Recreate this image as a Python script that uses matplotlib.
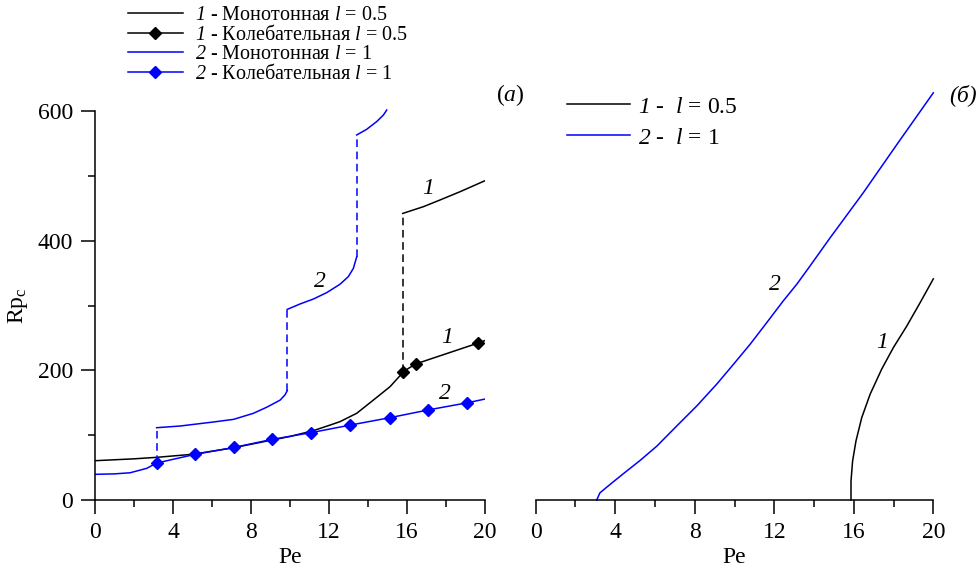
import matplotlib
matplotlib.use('Agg')
import matplotlib.pyplot as plt
from matplotlib.ticker import MultipleLocator
from matplotlib.lines import Line2D

plt.rcParams['font.family'] = ['Liberation Serif', 'DejaVu Serif']
plt.rcParams['mathtext.fontset'] = 'custom'
plt.rcParams['mathtext.rm'] = 'Liberation Serif'
plt.rcParams['mathtext.it'] = 'Liberation Serif:italic'
plt.rcParams['mathtext.cal'] = 'Liberation Serif:italic'

# ---------------- data (panel a) ----------------
# curve 1 (l = 0.5), monotonic, lower branch
mono1_low_pe = [0, 2, 3.16, 5, 7, 9, 10, 11.2, 12, 12.56, 13.42, 14.27, 15.13, 15.8]
mono1_low_rp = [60.6, 63.5, 65.8, 70.5, 80, 92, 98, 107, 115, 120.8, 133.7, 154, 174.8, 197]
# curve 1, monotonic, upper branch
mono1_up_pe = [15.78, 16.84, 17.69, 18.72, 20]
mono1_up_rp = [442, 452.4, 462.7, 475.5, 492.5]
# curve 1, oscillatory
osc1_pe = [15.8, 16.46, 19.64, 20]
osc1_rp = [198, 210, 242, 246]
# curve 1 jump
jump1_pe = [15.78, 15.78]
jump1_rp = [197, 442]

# curve 2 (l = 1), monotonic branches
mono2_a_pe = [0, 1, 1.8, 2.65, 3.16]
mono2_a_rp = [39.6, 40.3, 42, 48.8, 57]
mono2_b_pe = [3.16, 4.36, 6.07, 7.11, 8.12, 8.8, 9.49, 9.74, 9.86]
mono2_b_rp = [111.5, 114.1, 120.3, 124.4, 133.7, 143, 154, 162, 168.6]
mono2_c_pe = [9.86, 10.51, 11.2, 11.88, 12.56, 12.99, 13.25, 13.42]
mono2_c_rp = [294, 302.3, 310, 319.8, 332.7, 344.5, 357.3, 375]
mono2_d_pe = [13.42, 13.93, 14.44, 14.79, 14.96]
mono2_d_rp = [563, 571.7, 583.5, 593.8, 601.5]
# jumps for curve 2
jump2_pe = [[3.16, 3.16], [9.86, 9.86], [13.42, 13.42]]
jump2_rp = [[57, 111.5], [168.6, 294], [375, 563]]
# curve 2, oscillatory
osc2_pe = [3.16, 5.13, 7.11, 9.1, 11.1, 13.1, 15.13, 17.1, 19.1, 20]
osc2_rp = [57, 70.4, 81, 93.6, 104, 115.6, 127, 139, 150, 155.7]

# ---------------- data (panel б) ----------------
b1_pe = [15.86, 15.86, 15.94, 16.11, 16.4, 16.82, 17.4, 17.99, 18.66, 19.33, 20]
b1_val = [0, 29, 60, 91, 127, 163, 201.6, 235, 268, 304, 341]
b2_pe = [3.07, 3.23, 3.74, 4.41, 5.25, 6.09, 7.09, 8.1, 9.1, 9.94, 10.78,
         11.62, 12.45, 13.13, 13.8, 14.8, 16.48, 18.16, 20]
b2_val = [0, 11, 24, 40.6, 61, 83, 114, 145, 178.5, 209, 240,
          273.5, 307, 332.7, 361, 404, 474, 548, 628]

x_ticks = [0, 4, 8, 12, 16, 20]
y_ticks = [0, 200, 400, 600]

BLUE = '#0000ff'
LW = 1.1
DASH = (0, (5, 3))

fig = plt.figure(figsize=(9.8, 5.73), dpi=100)
axL = fig.add_axes([95/980, 73/573, 390/980, 389/573])
axR = fig.add_axes([535.7/980, 73/573, 397.6/980, 389/573])

# panel a
axL.plot(mono1_low_pe, mono1_low_rp, color='black', lw=LW)
axL.plot(mono1_up_pe, mono1_up_rp, color='black', lw=LW)
axL.plot(jump1_pe, jump1_rp, color='black', lw=LW, ls=DASH)
axL.plot(osc1_pe, osc1_rp, color='black', lw=LW, marker='D', ms=6,
         markevery=[0, 1, 2])
axL.plot(mono2_a_pe, mono2_a_rp, color=BLUE, lw=LW)
axL.plot(mono2_b_pe, mono2_b_rp, color=BLUE, lw=LW)
axL.plot(mono2_c_pe, mono2_c_rp, color=BLUE, lw=LW)
axL.plot(mono2_d_pe, mono2_d_rp, color=BLUE, lw=LW, clip_on=False)
for xs, ys in zip(jump2_pe, jump2_rp):
    axL.plot(xs, ys, color=BLUE, lw=LW, ls=DASH)
axL.plot(osc2_pe, osc2_rp, color=BLUE, lw=LW, marker='D', ms=6,
         markevery=list(range(9)))

# legend (panel a)
hL = [Line2D([], [], color='black', lw=LW),
      Line2D([], [], color='black', lw=LW, marker='D', ms=6),
      Line2D([], [], color=BLUE, lw=LW),
      Line2D([], [], color=BLUE, lw=LW, marker='D', ms=6)]
lL = [r'$\mathcal{1}$ - Монотонная $\mathit{l}$ = 0.5',
      r'$\mathcal{1}$ - Колебательная $\mathit{l}$ = 0.5',
      r'$\mathcal{2}$ - Монотонная $\mathit{l}$ = 1',
      r'$\mathcal{2}$ - Колебательная $\mathit{l}$ = 1']
fig.legend(hL, lL, loc='upper left', bbox_to_anchor=(127.7/980, 1 - 5.5/573),
           frameon=False, fontsize=14.5, handlelength=2.75, handletextpad=0.6,
           labelspacing=0.0, borderpad=0, borderaxespad=0)

axL.set_xlim(0, 20)
axL.set_ylim(0, 600)
axL.set_xticks(x_ticks)
axL.set_yticks(y_ticks)
axL.xaxis.set_minor_locator(MultipleLocator(2))
axL.yaxis.set_minor_locator(MultipleLocator(100))
axL.spines['top'].set_visible(False)
axL.spines['right'].set_visible(False)
axL.set_xlabel('Pe', fontsize=17, labelpad=3)
axL.set_ylabel(r'Rp$_\mathrm{c}$', fontsize=17, labelpad=5)

axL.text(17.08, 481, '1', fontsize=17, style='italic', ha='center', va='center')
axL.text(18.04, 251, '1', fontsize=17, style='italic', ha='center', va='center')
axL.text(11.54, 336.7, '2', fontsize=17, style='italic', ha='center', va='center')
axL.text(17.95, 164.6, '2', fontsize=17, style='italic', ha='center', va='center')

# panel б
axR.plot(b1_pe, b1_val, color='black', lw=LW, clip_on=False)
axR.plot(b2_pe, b2_val, color=BLUE, lw=LW, clip_on=False)
hR = [Line2D([], [], color='black', lw=LW), Line2D([], [], color=BLUE, lw=LW)]
lR = [r'$\mathcal{1}$ -  $\mathit{l}$ = 0.5', r'$\mathcal{2}$ -  $\mathit{l}$ = 1']
fig.legend(hR, lR, loc='upper left', bbox_to_anchor=(566.7/980, 1 - 96/573),
           frameon=False, fontsize=17, handlelength=2.7, handletextpad=0.3,
           labelspacing=0.4, borderpad=0, borderaxespad=0)
axR.set_xlim(0, 20)
axR.set_ylim(0, 600)
axR.set_xticks(x_ticks)
axR.set_yticks([])
axR.xaxis.set_minor_locator(MultipleLocator(2))
for s in ['top', 'right', 'left']:
    axR.spines[s].set_visible(False)
axR.set_xlabel('Pe', fontsize=17, labelpad=3)
axR.text(12.04, 332.7, '2', fontsize=17, style='italic', ha='center', va='center')
axR.text(17.4, 242.6, '1', fontsize=17, style='italic', ha='center', va='center')

for ax in (axL, axR):
    for s in ax.spines.values():
        s.set_linewidth(1.1)
    ax.tick_params(which='major', direction='out', length=10, width=1.1,
                   labelsize=17, pad=6)
    ax.tick_params(which='minor', direction='out', length=5, width=1.1)

fig.text(510/980, 1 - 95/573, r'($\mathit{a}$)', fontsize=17, ha='center', va='center')
fig.text(963/980, 1 - 95/573, '(б)', fontsize=17, style='italic', ha='center', va='center')

fig.savefig('out.png', dpi=100)
